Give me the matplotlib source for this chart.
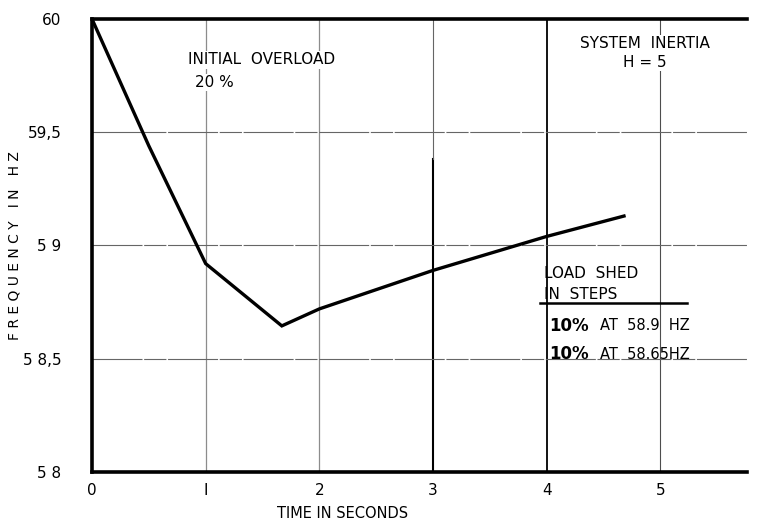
import matplotlib
matplotlib.use("Agg")
import matplotlib.pyplot as plt

# frequency decay after 20% overload, with two load shedding steps
time_s = [0.0, 0.5, 1.0, 1.67, 2.0, 3.0, 4.0, 4.68]
freq_hz = [60.0, 59.44, 58.92, 58.645, 58.72, 58.89, 59.04, 59.13]

x_ticks = [0, 1, 2, 3, 4, 5]
x_labels = ["0", "I", "2", "3", "4", "5"]
y_ticks = [58, 58.5, 59, 59.5, 60]
y_labels = ["5 8", "5 8,5", "5 9", "59,5", "60"]

plt.rcParams['font.family'] = ['DejaVu Sans']

fig = plt.figure(figsize=(7.62, 5.26), dpi=100, facecolor='white')
ax = fig.add_axes([0.1207, 0.1027, 0.8593, 0.8612])

ax.set_xlim(0, 5.76)
ax.set_ylim(58, 60)

# grid
for x in x_ticks[1:]:
    if x == 4:
        ax.axvline(x, color='black', lw=1.3, zorder=1)
    elif x == 3:
        ax.axvline(x, ymin=0, ymax=0.69, color='black', lw=1.5, zorder=1)
        ax.axvline(x, ymin=0.69, ymax=1, color='0.4', lw=0.8, zorder=1)
    elif x == 5:
        ax.axvline(x, color='0.3', lw=0.8, zorder=1)
    else:
        ax.axvline(x, color='0.55', lw=0.9, zorder=1)
for y in y_ticks[1:-1]:
    ax.axhline(y, color='0.4', lw=0.8, ls=(0, (45, 1.5, 20, 1.5)), zorder=1)

ax.plot(time_s, freq_hz, color='black', lw=2.4, zorder=3, solid_joinstyle='miter')

for s in ['left', 'top', 'bottom']:
    ax.spines[s].set_linewidth(2.6)
ax.spines['right'].set_visible(False)

ax.set_xticks(x_ticks)
ax.set_xticklabels(x_labels, fontsize=11)
ax.set_yticks(y_ticks)
ax.set_yticklabels(y_labels, fontsize=11)
ax.tick_params(axis='x', length=0, pad=8)
ax.tick_params(axis='y', length=0, pad=22)

ax.set_xlabel("TIME IN SECONDS", fontsize=10.5, labelpad=8)
ax.xaxis.set_label_coords(0.383, -0.075)
ax.set_ylabel("F R E Q U E N C Y   I N   H Z", fontsize=10)
ax.yaxis.set_label_coords(-0.108, 0.5)

box = dict(facecolor='white', edgecolor='none', pad=1)
ax.text(1.49, 59.82, "INITIAL  OVERLOAD", fontsize=11, ha='center', va='center', bbox=box, zorder=4)
ax.text(1.08, 59.72, "20 %", fontsize=11, ha='center', va='center', bbox=box, zorder=4)
ax.text(4.86, 59.89, "SYSTEM  INERTIA", fontsize=11, ha='center', va='center', bbox=box, zorder=4)
ax.text(4.86, 59.81, "H = 5", fontsize=11, ha='center', va='center', bbox=box, zorder=4)

ax.text(3.98, 58.875, "LOAD  SHED", fontsize=11, ha='left', va='center', zorder=4)
ax.text(3.98, 58.785, "IN  STEPS", fontsize=11, ha='left', va='center', zorder=4)
ax.plot([3.94, 5.23], [58.745, 58.745], color='black', lw=1.8, zorder=4)
ax.text(4.02, 58.645, "10%", fontsize=12, fontweight='bold', ha='left', va='center', zorder=4)
ax.text(4.47, 58.645, "AT  58.9  HZ", fontsize=10.5, ha='left', va='center', zorder=4)
ax.text(4.02, 58.52, "10%", fontsize=12, fontweight='bold', ha='left', va='center', zorder=4)
ax.text(4.47, 58.52, "AT  58.65HZ", fontsize=10.5, ha='left', va='center', zorder=4)

fig.savefig("out.png", dpi=100, facecolor='white')
